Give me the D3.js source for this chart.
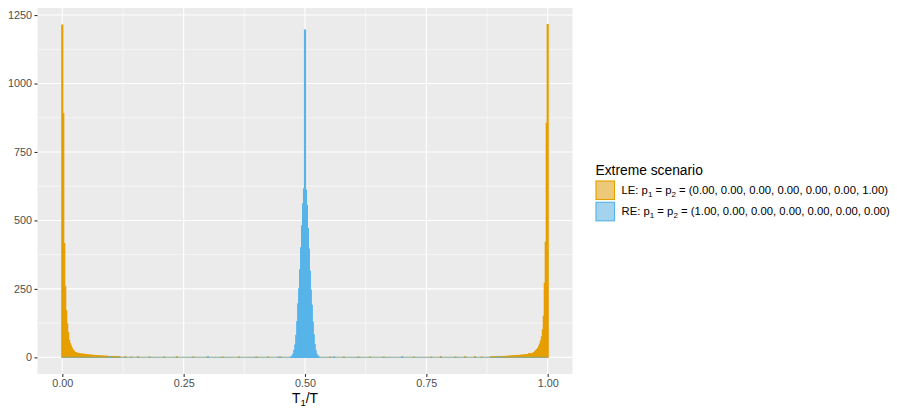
<!DOCTYPE html>
<html><head><meta charset="utf-8">
<script src="https://cdn.jsdelivr.net/npm/d3@7"></script>
<style>
html,body{margin:0;padding:0;background:#fff;}
svg{display:block;font-family:"Liberation Sans",Arial,Helvetica,sans-serif;}
</style></head>
<body>
<script>
// ---- data ----
const binWidth = 0.002;
const xTicks = [0, 0.25, 0.5, 0.75, 1];
const xTickLabels = ["0.00", "0.25", "0.50", "0.75", "1.00"];
const yTicks = [0, 250, 500, 750, 1000, 1250];
const yTickLabels = ["0", "250", "500", "750", "1000", "1250"];
const seriesNames = ["LE", "RE"];
const seriesColors = ["#E69F00", "#56B4E9"];
const legendTitle = "Extreme scenario";
// LE counts for bins starting at T1/T = 0.000 going right
const leLeft = [1213, 890, 415, 258, 170, 122, 90, 62, 50, 41, 33, 26, 23, 18, 17, 15, 13, 14, 12, 12,
  11, 12, 10, 11, 9, 10, 8, 9, 8, 7, 8, 7, 6, 7, 6, 6, 5, 6, 5, 5,
  4, 5, 4, 4, 3, 4, 4, 3, 3, 2, 3, 3, 2, 2, 3, 2, 2, 1, 2, 2];
// LE counts for bins starting at T1/T = 1.000 going left
const leRight = [1215, 855, 420, 270, 150, 100, 75, 60, 48, 40, 32, 28, 25, 20, 17, 15, 13, 12, 11, 14,
  10, 9, 10, 8, 9, 8, 7, 8, 7, 6, 7, 6, 6, 5, 6, 5, 5, 4, 5, 4,
  4, 3, 4, 3, 3, 3, 2, 3, 2, 2, 3, 2, 2, 1, 2, 2, 1, 2, 1, 1];
// RE counts for bins from T1/T = 0.472 to 0.528
const reCenterStart = 0.472;
const reCenter = [2, 5, 12, 25, 45, 80, 130, 195, 250, 320, 400, 480, 560, 615, 1195,
  610, 555, 470, 395, 315, 245, 190, 128, 82, 47, 24, 11, 5, 2];
// scattered small counts [T1/T, count]
const leScatter = [[0.13, 2], [0.142, 1], [0.156, 2], [0.18, 1], [0.21, 1], [0.236, 2], [0.27, 1], [0.3, 1],
  [0.33, 1], [0.364, 1], [0.4, 1], [0.424, 1], [0.45, 1], [0.552, 1], [0.58, 1], [0.61, 1],
  [0.634, 1], [0.662, 1], [0.7, 1], [0.724, 1], [0.76, 1], [0.78, 2], [0.81, 1], [0.83, 2], [0.85, 2], [0.864, 1]];
const reScatter = [[0.1, 1], [0.3, 1], [0.446, 1], [0.56, 1], [0.7, 1], [0.9, 1]];

// ---- build binned counts ----
const nBins = Math.round(1 / binWidth) + 1;
function emptyBins() { return new Array(nBins).fill(0); }
const leCounts = emptyBins();
leLeft.forEach((c, i) => { leCounts[i] += c; });
leRight.forEach((c, i) => { leCounts[nBins - 1 - i] += c; });
leScatter.forEach(([x, c]) => { leCounts[Math.round(x / binWidth)] += c; });
const reCounts = emptyBins();
const reStartIdx = Math.round(reCenterStart / binWidth);
reCenter.forEach((c, i) => { reCounts[reStartIdx + i] += c; });
reScatter.forEach(([x, c]) => { reCounts[Math.round(x / binWidth)] += c; });
const allCounts = [leCounts, reCounts];

// ---- layout ----
const W = 897, H = 408;
const P = {l: 37.5, r: 572.5, t: 8, b: 374};
const FONT = '"Liberation Sans",Arial,Helvetica,sans-serif';
const svg = d3.select("body").append("svg").attr("width", W).attr("height", H);

const xMin = -binWidth / 2, xMax = 1 + binWidth / 2;
const xPad = (xMax - xMin) * 0.05;
const x = d3.scaleLinear().domain([xMin - xPad, xMax + xPad]).range([P.l, P.r]);
const yMax = d3.max(allCounts.flat());
const y = d3.scaleLinear().domain([-yMax * 0.05, yMax * 1.05]).range([P.b, P.t]);

// panel
svg.append("rect").attr("x", P.l).attr("y", P.t).attr("width", P.r - P.l).attr("height", P.b - P.t).attr("fill", "#EBEBEB");
const g = svg.append("g");
const xMinor = xTicks.slice(0, -1).map((t, i) => (t + xTicks[i + 1]) / 2);
const yMinor = yTicks.slice(0, -1).map((t, i) => (t + yTicks[i + 1]) / 2);
g.selectAll(".xm").data(xMinor).join("line").attr("x1", d => x(d)).attr("x2", d => x(d)).attr("y1", P.t).attr("y2", P.b).attr("stroke", "#fff").attr("stroke-width", 0.55);
g.selectAll(".ym").data(yMinor).join("line").attr("y1", d => y(d)).attr("y2", d => y(d)).attr("x1", P.l).attr("x2", P.r).attr("stroke", "#fff").attr("stroke-width", 0.55);
g.selectAll(".xM").data(xTicks).join("line").attr("x1", d => x(d)).attr("x2", d => x(d)).attr("y1", P.t).attr("y2", P.b).attr("stroke", "#fff").attr("stroke-width", 1.1);
g.selectAll(".yM").data(yTicks).join("line").attr("y1", d => y(d)).attr("y2", d => y(d)).attr("x1", P.l).attr("x2", P.r).attr("stroke", "#fff").attr("stroke-width", 1.1);

// bars
allCounts.forEach((counts, s) => {
  const col = seriesColors[s];
  const bars = svg.append("g");
  bars.selectAll("path").data(counts.map((c, i) => ({c, i}))).join("path")
    .attr("d", d => {
      const x0 = x(d.i * binWidth - binWidth / 2), x1 = x(d.i * binWidth + binWidth / 2);
      const y0 = y(0), y1 = y(d.c);
      return `M${x0},${y0}H${x1}V${y1}H${x0}Z`;
    })
    .attr("fill", col).attr("fill-opacity", 0.5)
    .attr("stroke", col).attr("stroke-width", 1.2)
    .attr("stroke-opacity", d => d.c === 0 ? 0.6 : 1);
});

// axes
const xAxis = svg.append("g").attr("transform", `translate(0,${P.b})`)
  .call(d3.axisBottom(x).tickValues(xTicks).tickFormat((d, i) => xTickLabels[i]).tickSize(3).tickPadding(2.5));
const yAxis = svg.append("g").attr("transform", `translate(${P.l},0)`)
  .call(d3.axisLeft(y).tickValues(yTicks).tickFormat((d, i) => yTickLabels[i]).tickSize(3).tickPadding(2.5));
[xAxis, yAxis].forEach(a => {
  a.select(".domain").remove();
  a.selectAll(".tick line").attr("stroke", "#333").attr("stroke-width", 1.1);
  a.selectAll(".tick text").attr("fill", "#4D4D4D").attr("font-size", 10.8).attr("font-family", FONT);
});

// x title
const xt = svg.append("text").attr("x", x(0.5)).attr("y", 402.5).attr("text-anchor", "middle")
  .attr("font-size", 13.8).attr("fill", "#000");
xt.append("tspan").text("T");
xt.append("tspan").attr("font-size", 9.5).attr("dy", 3).text("1");
xt.append("tspan").attr("dy", -3).text("/T");

// legend
const lx = 595.5, ly = 180.5, ks = 19.5, gap = 1.8;
svg.append("text").attr("x", lx).attr("y", 174.5).attr("font-size", 13.8).attr("fill", "#000").text(legendTitle);
const legendLabels = [
  ["LE: p", "1", " = p", "2", " = (0.00, 0.00, 0.00, 0.00, 0.00, 0.00, 1.00)"],
  ["RE: p", "1", " = p", "2", " = (1.00, 0.00, 0.00, 0.00, 0.00, 0.00, 0.00)"]
];
seriesNames.forEach((nm, i) => {
  const yy = ly + i * (ks + gap);
  svg.append("rect").attr("x", lx).attr("y", yy).attr("width", ks).attr("height", ks).attr("fill", "#F2F2F2");
  svg.append("rect").attr("x", lx + 0.5).attr("y", yy + 0.5).attr("width", ks - 1).attr("height", ks - 1)
    .attr("fill", seriesColors[i]).attr("fill-opacity", 0.5).attr("stroke", seriesColors[i]).attr("stroke-width", 1.1);
  const t = svg.append("text").attr("x", lx + ks + 6.5).attr("y", yy + ks / 2 + 3.8).attr("font-size", 11.3).attr("fill", "#000");
  legendLabels[i].forEach((part, j) => {
    const sub = j === 1 || j === 3;
    const ts = t.append("tspan").text(part);
    if (sub) ts.attr("font-size", 8).attr("dy", 2.5);
    else if (j > 0) ts.attr("dy", -2.5);
  });
});
</script>
</body></html>
